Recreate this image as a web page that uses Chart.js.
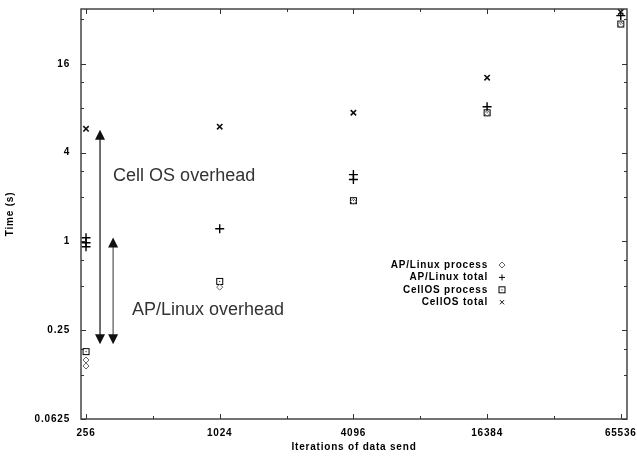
<!DOCTYPE html>
<html lang="en">
<head>
    <meta charset="UTF-8">
    <title>Time vs iterations</title>
    <script src="https://cdn.jsdelivr.net/npm/chart.js@4.4.0/dist/chart.umd.min.js"></script>
    <style>
        html, body {margin: 0; padding: 0; background: #fff;}
        #box {width: 637px; height: 458px; position: relative;}
    </style>
</head>
<body>
<div id="box"><canvas id="chart"></canvas></div>
<script>
    // tick values (log base 4 axes)
    const xTicks = [256, 1024, 4096, 16384, 65536];
    const yTicks = [0.0625, 0.25, 1, 4, 16];

    // series
    const apProcX = [256, 256, 1024, 4096, 16384, 65536];
    const apProcY = [0.157, 0.143, 0.49, 1.87, 7.4, 29.5];
    const apTotalX = [256, 256, 256, 1024, 4096, 4096, 16384, 65536];
    const apTotalY = [1.06, 0.98, 0.92, 1.22, 2.84, 2.63, 8.2, 34];
    const cellProcX = [256, 1024, 4096, 16384, 65536];
    const cellProcY = [0.179, 0.536, 1.89, 7.46, 29.8];
    const cellTotalX = [256, 1024, 4096, 16384, 65536];
    const cellTotalY = [5.8, 6.0, 7.46, 12.9, 36];

    const legendNames = ['AP/Linux process', 'AP/Linux total', 'CellOS process', 'CellOS total'];

    // overhead arrows (data coords)
    const arrowX = [296, 339];
    const arrowTop = [5.72, 1.065];
    const arrowBottom = [0.201, 0.201];

    const smallFont = {family: 'Liberation Sans', size: 10, weight: 'bold'};

    function pts(xs, ys) {
        return xs.map((x, i) => ({x: x, y: ys[i]}));
    }

    // square with a dot, gnuplot style
    function squareDot() {
        const c = document.createElement('canvas');
        c.width = 9; c.height = 9;
        const g = c.getContext('2d');
        g.strokeStyle = '#000';
        g.lineWidth = 1;
        g.strokeRect(1.5, 1.5, 6, 6);
        g.fillStyle = '#000';
        g.fillRect(4, 4, 1, 1);
        return c;
    }
    const sqImg = squareDot();

    const styles = [
        {pointStyle: 'rectRot', radius: 3, borderColor: '#666', borderWidth: 1},
        {pointStyle: 'cross', radius: 4.5, borderColor: '#000', borderWidth: 1.4},
        {pointStyle: sqImg, radius: 4, borderColor: '#000', borderWidth: 1},
        {pointStyle: 'crossRot', radius: 3.8, borderColor: '#111', borderWidth: 1.6}
    ];

    function minorTicks(values, mults) {
        let out = [];
        values.forEach(v => mults.forEach(m => out.push(v * m)));
        return out;
    }

    const framePlugin = {
        id: 'frame',
        beforeDraw(chart) {
            chart.ctx.letterSpacing = '0.8px';
        },
        afterDatasetsDraw(chart) {
            const ctx = chart.ctx;
            const a = chart.chartArea;
            const xs = chart.scales.x, ys = chart.scales.y;
            ctx.save();
            ctx.letterSpacing = '0px';
            ctx.strokeStyle = '#444';
            ctx.lineWidth = 1.5;
            ctx.strokeRect(a.left, a.top, a.right - a.left, a.bottom - a.top);

            // inward ticks, mirrored
            ctx.lineWidth = 1;
            ctx.strokeStyle = '#333';
            ctx.beginPath();
            xTicks.forEach(v => {
                const p = Math.round(xs.getPixelForValue(v)) + 0.5;
                ctx.moveTo(p, a.bottom); ctx.lineTo(p, a.bottom - 5);
                ctx.moveTo(p, a.top); ctx.lineTo(p, a.top + 5);
            });
            minorTicks(xTicks, [2]).forEach(v => {
                if (v > xs.max) return;
                const p = Math.round(xs.getPixelForValue(v)) + 0.5;
                ctx.moveTo(p, a.bottom); ctx.lineTo(p, a.bottom - 3);
                ctx.moveTo(p, a.top); ctx.lineTo(p, a.top + 3);
            });
            yTicks.forEach(v => {
                const p = Math.round(ys.getPixelForValue(v)) + 0.5;
                ctx.moveTo(a.left, p); ctx.lineTo(a.left + 5, p);
                ctx.moveTo(a.right, p); ctx.lineTo(a.right - 5, p);
            });
            minorTicks(yTicks, [2, 3]).forEach(v => {
                if (v > ys.max) return;
                const p = Math.round(ys.getPixelForValue(v)) + 0.5;
                ctx.moveTo(a.left, p); ctx.lineTo(a.left + 3, p);
                ctx.moveTo(a.right, p); ctx.lineTo(a.right - 3, p);
            });
            ctx.stroke();

            // overhead arrows
            arrowX.forEach((xv, i) => {
                const x = xs.getPixelForValue(xv);
                const y1 = ys.getPixelForValue(arrowTop[i]);
                const y2 = ys.getPixelForValue(arrowBottom[i]);
                ctx.strokeStyle = i === 0 ? '#111' : '#555';
                ctx.lineWidth = 1.2;
                ctx.beginPath();
                ctx.moveTo(x, y1 + 9); ctx.lineTo(x, y2 - 9);
                ctx.stroke();
                ctx.fillStyle = '#111';
                ctx.beginPath();
                ctx.moveTo(x, y1); ctx.lineTo(x - 5, y1 + 10); ctx.lineTo(x + 5, y1 + 10); ctx.closePath();
                ctx.moveTo(x, y2); ctx.lineTo(x - 5, y2 - 10); ctx.lineTo(x + 5, y2 - 10); ctx.closePath();
                ctx.fill();
            });

            ctx.fillStyle = '#333';
            ctx.font = '18px "Liberation Sans", Arial, sans-serif';
            ctx.textAlign = 'left';
            ctx.textBaseline = 'alphabetic';
            ctx.fillText('Cell OS overhead', xs.getPixelForValue(339), ys.getPixelForValue(2.55));
            ctx.fillText('AP/Linux overhead', xs.getPixelForValue(412), ys.getPixelForValue(0.316));

            // key
            ctx.letterSpacing = '0.8px';
            ctx.font = 'bold 10px "Liberation Sans", Arial, sans-serif';
            ctx.textAlign = 'right';
            ctx.textBaseline = 'middle';
            legendNames.forEach((name, i) => {
                const y = 265 + i * 12.4;
                ctx.fillStyle = '#000';
                ctx.fillText(name, 488, y);
                const s = styles[i];
                ctx.strokeStyle = s.borderColor;
                ctx.fillStyle = 'rgba(0,0,0,0)';
                ctx.lineWidth = 1;
                Chart.helpers.drawPoint(ctx, {pointStyle: s.pointStyle, radius: 3, borderWidth: 1, rotation: 0}, 502, y);
            });
            ctx.restore();
        }
    };

    const datasets = [
        pts(apProcX, apProcY), pts(apTotalX, apTotalY), pts(cellProcX, cellProcY), pts(cellTotalX, cellTotalY)
    ].map((d, i) => ({
        label: legendNames[i],
        data: d,
        pointStyle: styles[i].pointStyle,
        pointRadius: styles[i].radius,
        pointBorderColor: styles[i].borderColor,
        pointBackgroundColor: 'rgba(0,0,0,0)',
        pointBorderWidth: styles[i].borderWidth,
        clip: false
    }));

    new Chart(document.getElementById('chart'), {
        type: 'scatter',
        data: {datasets: datasets},
        plugins: [framePlugin],
        options: {
            responsive: true,
            maintainAspectRatio: false,
            animation: false,
            layout: {padding: {left: 0, top: 9, right: 10, bottom: 0}},
            plugins: {legend: {display: false}, tooltip: {enabled: false}},
            scales: {
                x: {
                    type: 'logarithmic',
                    min: 243, max: 69900,
                    afterBuildTicks: s => { s.ticks = xTicks.map(v => ({value: v})); },
                    afterFit: s => { s.height = 39; s.paddingLeft = 0; s.paddingRight = 0; },
                    grid: {display: false, drawTicks: false},
                    border: {display: false},
                    ticks: {
                        color: '#000', font: smallFont, padding: 8, maxRotation: 0, autoSkip: false,
                        callback: v => String(v)
                    },
                    title: {display: true, text: 'Iterations of data send', color: '#000', font: smallFont, padding: {top: 0, bottom: 5}}
                },
                y: {
                    type: 'logarithmic',
                    min: 0.0625, max: 37.7,
                    afterBuildTicks: s => { s.ticks = yTicks.map(v => ({value: v})); },
                    afterFit: s => { s.width = 81; s.paddingTop = 0; s.paddingBottom = 0; },
                    grid: {display: false, drawTicks: false},
                    border: {display: false},
                    ticks: {
                        color: '#000', font: smallFont, padding: 11, autoSkip: false,
                        callback: v => String(v)
                    },
                    title: {display: true, text: 'Time (s)', color: '#000', font: smallFont, padding: {top: 4, bottom: 0}}
                }
            }
        }
    });
</script>
</body>
</html>
